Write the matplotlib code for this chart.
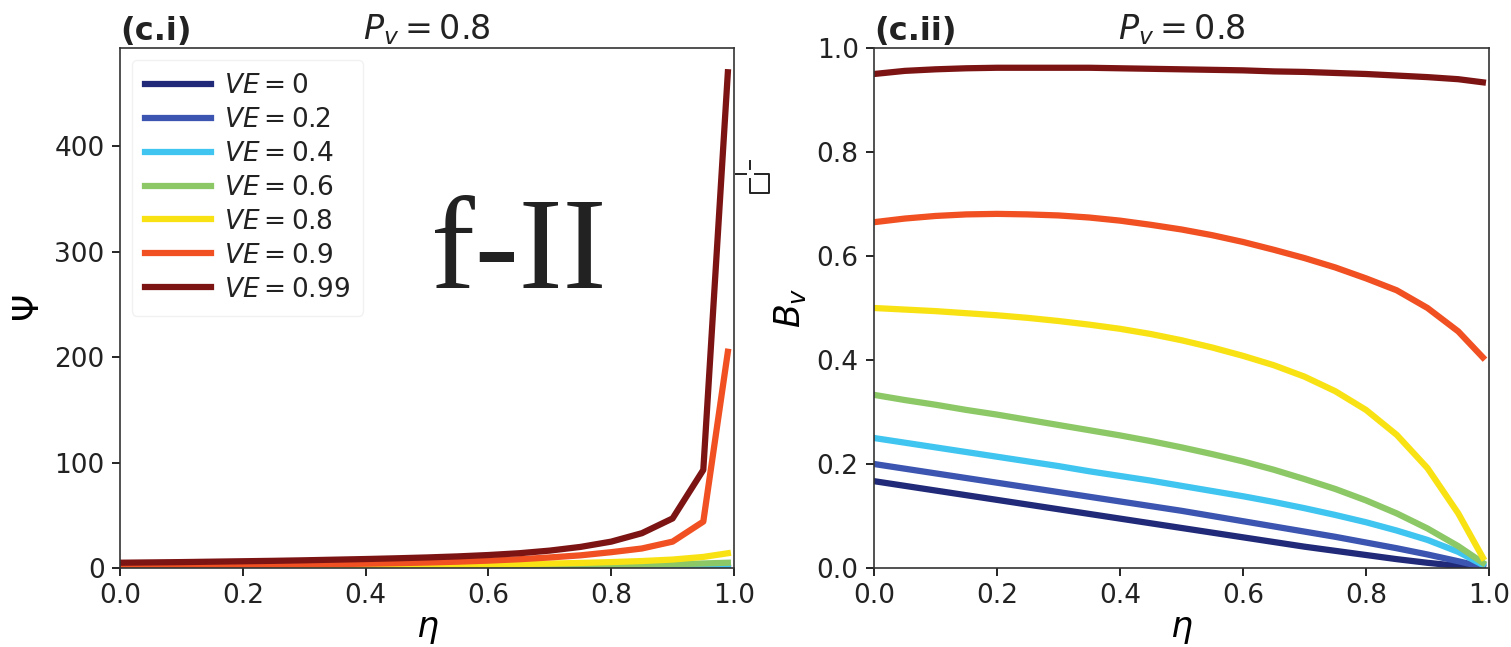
import numpy as np
import matplotlib.pyplot as plt
from matplotlib.lines import Line2D

# eta grid shared by both panels
eta = [0.0, 0.05, 0.1, 0.15, 0.2, 0.25, 0.3, 0.35, 0.4, 0.45, 0.5,
       0.55, 0.6, 0.65, 0.7, 0.75, 0.8, 0.85, 0.9, 0.95, 0.99]

ve_labels = ['0', '0.2', '0.4', '0.6', '0.8', '0.9', '0.99']
colors = ['#202a78', '#3b55b0', '#3fc5f0', '#8cc866', '#f8e213', '#f05022', '#7c1414']

# panel (c.i): Psi
psi_0 = [0.2, 0.2, 0.2, 0.2, 0.2, 0.2, 0.2, 0.2, 0.2, 0.2, 0.2,
         0.2, 0.2, 0.2, 0.2, 0.2, 0.2, 0.2, 0.2, 0.2, 0.2]
psi_02 = [0.3, 0.3, 0.3, 0.3, 0.3, 0.3, 0.3, 0.3, 0.3, 0.3, 0.3,
          0.3, 0.3, 0.3, 0.3, 0.3, 0.3, 0.3, 0.35, 0.4, 0.4]
psi_04 = [0.5, 0.5, 0.5, 0.5, 0.5, 0.55, 0.55, 0.6, 0.6, 0.6, 0.65,
          0.7, 0.7, 0.75, 0.8, 0.85, 0.9, 1.0, 1.1, 1.3, 1.5]
psi_06 = [0.8, 0.85, 0.9, 0.95, 1.0, 1.05, 1.1, 1.2, 1.3, 1.4, 1.5,
          1.6, 1.75, 1.9, 2.1, 2.4, 2.7, 3.1, 3.6, 4.3, 5.0]
psi_08 = [1.2, 1.3, 1.4, 1.5, 1.6, 1.7, 1.85, 2.0, 2.2, 2.4, 2.7,
          3.0, 3.3, 3.7, 4.2, 4.8, 5.6, 6.6, 8.0, 10.5, 14.0]
psi_09 = [2.0, 2.2, 2.4, 2.6, 2.8, 3.1, 3.4, 3.7, 4.1, 4.6, 5.2,
          6.0, 7.0, 8.3, 10.0, 12.0, 15.0, 18.5, 25.0, 44.0, 205.0]
psi_099 = [5.0, 5.3, 5.6, 6.0, 6.4, 6.8, 7.3, 7.9, 8.5, 9.2, 10.0,
           11.0, 12.3, 14.0, 16.5, 20.0, 25.0, 33.0, 47.0, 93.0, 470.0]
psi = [psi_0, psi_02, psi_04, psi_06, psi_08, psi_09, psi_099]

# panel (c.ii): B_v
bv_0 = [0.167, 0.158, 0.149, 0.140, 0.131, 0.122, 0.113, 0.104, 0.095, 0.086, 0.077,
        0.068, 0.059, 0.050, 0.041, 0.033, 0.025, 0.017, 0.010, 0.004, 0.0]
bv_02 = [0.200, 0.191, 0.182, 0.173, 0.164, 0.155, 0.146, 0.137, 0.128, 0.119, 0.110,
         0.100, 0.090, 0.080, 0.070, 0.060, 0.049, 0.038, 0.026, 0.013, 0.002]
bv_04 = [0.250, 0.241, 0.232, 0.223, 0.214, 0.205, 0.196, 0.186, 0.177, 0.168, 0.158,
         0.148, 0.138, 0.127, 0.115, 0.102, 0.088, 0.072, 0.054, 0.031, 0.006]
bv_06 = [0.333, 0.323, 0.314, 0.304, 0.295, 0.285, 0.275, 0.265, 0.255, 0.244, 0.232,
         0.219, 0.205, 0.189, 0.171, 0.152, 0.130, 0.105, 0.076, 0.042, 0.010]
bv_08 = [0.500, 0.497, 0.494, 0.490, 0.486, 0.481, 0.475, 0.468, 0.460, 0.450, 0.438,
         0.424, 0.408, 0.390, 0.368, 0.340, 0.304, 0.256, 0.192, 0.105, 0.020]
bv_09 = [0.665, 0.672, 0.677, 0.680, 0.681, 0.680, 0.678, 0.674, 0.668, 0.660, 0.651,
         0.640, 0.627, 0.612, 0.596, 0.578, 0.557, 0.534, 0.500, 0.455, 0.405]
bv_099 = [0.950, 0.956, 0.959, 0.961, 0.962, 0.962, 0.962, 0.962, 0.961, 0.960, 0.959,
          0.958, 0.957, 0.955, 0.954, 0.952, 0.950, 0.947, 0.944, 0.940, 0.934]
bv = [bv_0, bv_02, bv_04, bv_06, bv_08, bv_09, bv_099]

plt.rcParams['font.family'] = 'DejaVu Sans'
plt.rcParams['font.size'] = 19
plt.rcParams['text.color'] = '#222222'
plt.rcParams['xtick.labelcolor'] = '#222222'
plt.rcParams['ytick.labelcolor'] = '#222222'

W, H = 1511, 647
fig = plt.figure(figsize=(W / 100, H / 100), dpi=100)
ax1 = fig.add_axes([120 / W, 1 - 568 / H, 614 / W, 520 / H])
ax2 = fig.add_axes([874 / W, 1 - 568 / H, 615 / W, 520 / H])

for i in range(len(ve_labels)):
    ax1.plot(eta, psi[i], color=colors[i], lw=4.5, label=r'$VE=' + ve_labels[i] + '$')
    ax2.plot(eta, bv[i], color=colors[i], lw=4.5)

ax1.set_xlim(0, 1)
ax1.set_ylim(0, 493)
ax1.set_yticks([0, 100, 200, 300, 400])
ax1.set_xlabel(r'$\eta$', fontsize=25, labelpad=2)
ax1.set_ylabel(r'$\Psi$', fontsize=25, labelpad=6)
ax1.set_title('(c.i)', loc='left', fontweight='bold', fontsize=23, pad=6)
ax1.set_title(r'$P_v=0.8$', fontsize=24, pad=6)
leg = ax1.legend(loc='upper left', fontsize=19, handlelength=2.5, handletextpad=0.5,
                 borderpad=0.5, labelspacing=0.3, bbox_to_anchor=(0.0, 1.0),
                 borderaxespad=0.45)
leg.get_frame().set_edgecolor('#eeeeee')

ax1.text(0.65, 0.6, 'f-II', transform=ax1.transAxes, ha='center', va='center',
         fontsize=95, family='Liberation Serif')

ax2.set_xlim(0, 1)
ax2.set_ylim(0, 1)
ax2.set_xlabel(r'$\eta$', fontsize=25, labelpad=2)
ax2.set_ylabel(r'$B_v$', fontsize=25, labelpad=6)
ax2.set_title('(c.ii)', loc='left', fontweight='bold', fontsize=23, pad=6)
ax2.set_title(r'$P_v=0.8$', fontsize=24, pad=6)

for ax in (ax1, ax2):
    ax.tick_params(length=6, width=1.2, pad=5)
    for s in ax.spines.values():
        s.set_linewidth(1.2)
        s.set_color('#333333')

# small cursor mark between panels (pixel coords from top-left)
def px(xs, ys):
    return [x / W for x in xs], [1 - y / H for y in ys]

for xs, ys in [([736, 746], [174, 174]),
               ([750, 750], [161, 169]),
               ([755, 769, 769, 750, 750], [174, 174, 193, 193, 179])]:
    fx, fy = px(xs, ys)
    fig.add_artist(Line2D(fx, fy, color='#222222', lw=1.4))

fig.savefig('out.png', dpi=100)
